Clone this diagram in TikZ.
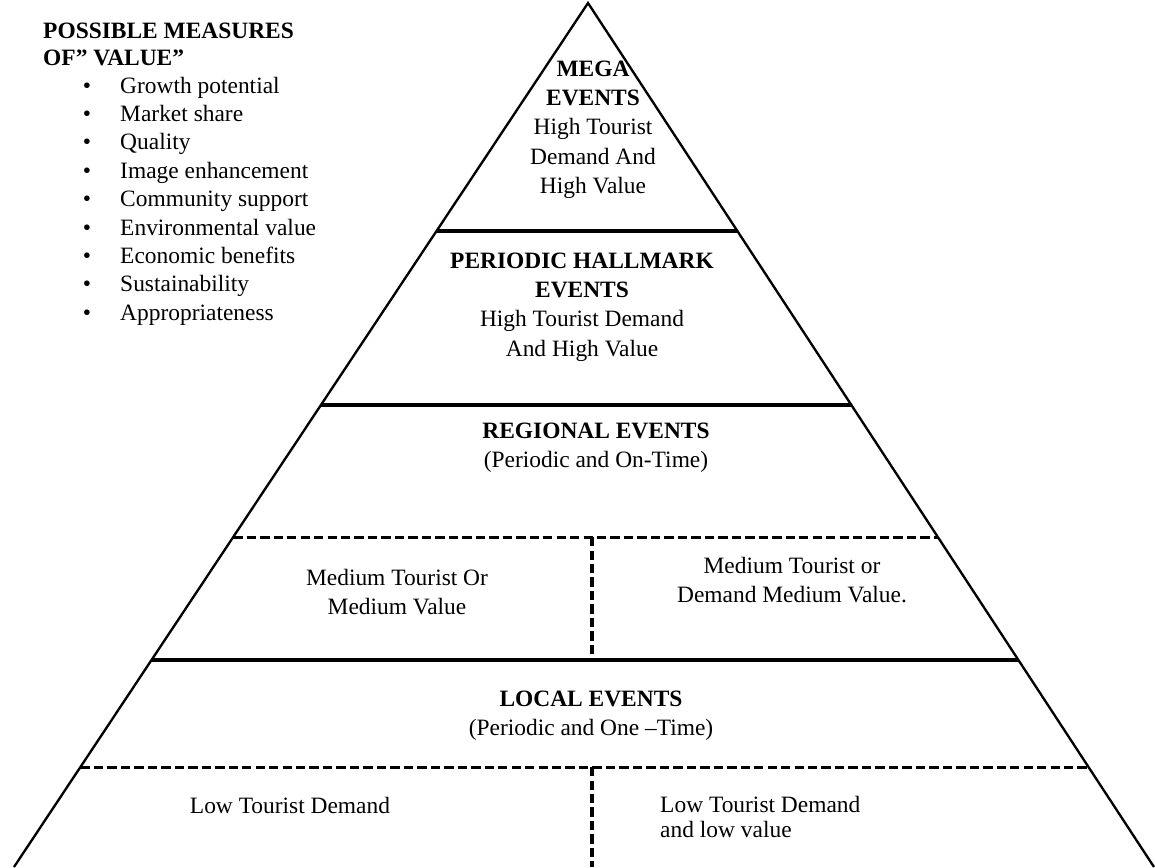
\documentclass[tikz,border=0pt]{standalone}
\usepackage{fontspec}
\setmainfont{Liberation Serif}
\usetikzlibrary{calc,positioning}
\tikzset{
    side/.style={line width=2pt},
    level/.style={line width=2.8pt},
    split/.style={line width=2.6pt, dash pattern=on 8pt off 3.5pt},
    title/.style={
        align=left,
        inner sep=0pt,
        anchor=north west,
        font=\fontsize{20}{22.5}\selectfont\bfseries
    },
    item/.style={inner sep=0pt, anchor=base west, font=\fontsize{20}{24}\selectfont},
    band/.style={
        align=center,
        inner sep=0pt,
        anchor=north,
        font=\fontsize{20}{25}\selectfont
    }
}

\begin{document}
\begin{tikzpicture}[x=0.03cm,y=-0.03cm]
  \useasboundingbox (0,0) rectangle (1155,867);

  \coordinate (A) at (588,3);
  \coordinate (B) at (14,867);
  \coordinate (C) at (1154,867);
  \coordinate (D) at (592,0);
  \draw[side] (B) -- (A) -- (C);

  \coordinate (L1) at ($(A)!0.2639!(B)$);
  \coordinate (R1) at ($(A)!0.2639!(C)$);
  \coordinate (L2) at ($(A)!0.4653!(B)$);
  \coordinate (R2) at ($(A)!0.4653!(C)$);
  \coordinate (L3) at ($(A)!0.6181!(B)$);
  \coordinate (R3) at ($(A)!0.6181!(C)$);
  \coordinate (L4) at ($(A)!0.7604!(B)$);
  \coordinate (R4) at ($(A)!0.7604!(C)$);
  \coordinate (L5) at ($(A)!0.8843!(B)$);
  \coordinate (R5) at ($(A)!0.8843!(C)$);

  \draw[level] (L1) -- (R1);
  \draw[level] (L2) -- (R2);
  \draw[split] (L3) -- (R3);
  \draw[level] (L4) -- (R4);
  \draw[split] (L5) -- (R5);
  \draw[split] (L3-|D) -- (L4-|D);
  \draw[split] (L5-|D) -- (B-|D);

  \node[title] (P) at (43,23) {POSSIBLE MEASURES\\OF” VALUE”};
  \foreach \w [count=\i] in {Growth potential, Market share, Quality,
      Image enhancement, Community support, Environmental value,
      Economic benefits, Sustainability, Appropriateness}{
    \node[item, anchor=base] (b\i) at (87,{93+28.4*(\i-1)}) {\textbullet};
    \node[item] (m\i) at (120,{93+28.4*(\i-1)}) {\w};
  }

  \node[band] (mega) at (593,60.5)
    {\textbf{MEGA}\\\textbf{EVENTS}\\High Tourist\\Demand And\\High Value};
  \node[band] (hall) at (582,252.5)
    {\textbf{PERIODIC HALLMARK}\\\textbf{EVENTS}\\High Tourist Demand\\And High Value};
  \node[band] (reg) at (596,422.5)
    {\textbf{REGIONAL EVENTS}\\(Periodic and On-Time)};
  \node[band] (medL) at (397,569) {Medium Tourist Or\\Medium Value};
  \node[band] (medR) at (792,557) {Medium Tourist or\\Demand Medium Value.};
  \node[band] (loc) at (591,690.5)
    {\textbf{LOCAL EVENTS}\\(Periodic and One –Time)};
  \node[band] (lowL) at (290,797) {Low Tourist Demand};
  \node[band, anchor=north west, align=left, font=\fontsize{20}{21.5}\selectfont]
    (lowR) at (660,796) {Low Tourist Demand\\and low value};

\end{tikzpicture}
\end{document}
